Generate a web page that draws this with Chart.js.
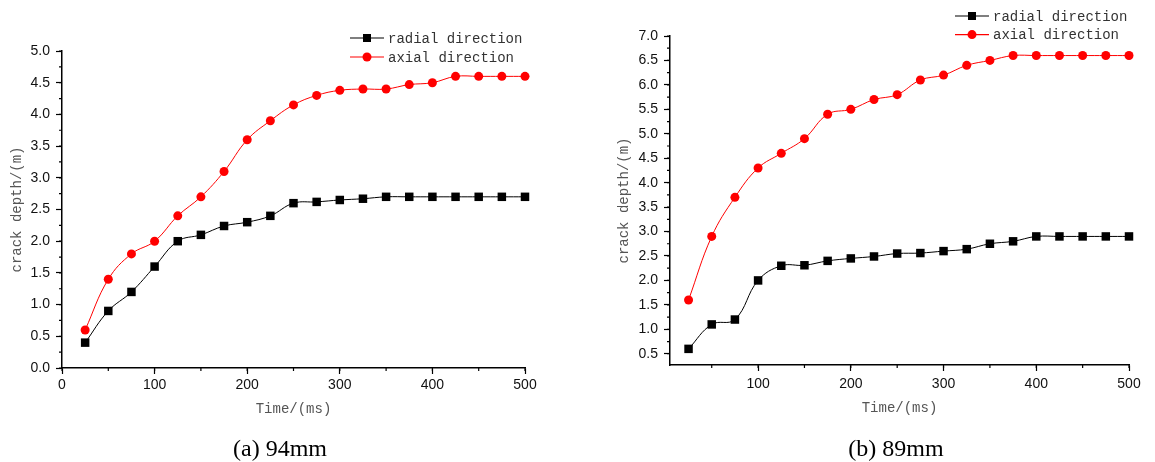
<!DOCTYPE html>
<html>
<head>
<meta charset="utf-8">
<script src="https://cdn.jsdelivr.net/npm/chart.js@4.4.1/dist/chart.umd.min.js"></script>
<style>
  body { margin: 0; background: #fff; }
  #wrap { position: relative; width: 1155px; height: 462px; overflow: hidden; }
  canvas { position: absolute; top: 0; }
  .cap { position: absolute; top: 436px; width: 300px; text-align: center;
         font: 24px "Liberation Serif", "Times New Roman", serif; line-height: 24px; color: #000; }
</style>
</head>
<body>
<div id="wrap">
  <canvas id="chartA" width="577" height="462" style="left:0"></canvas>
  <canvas id="chartB" width="578" height="462" style="left:577px"></canvas>
  <div class="cap" style="left:130px">(a) 94mm</div>
  <div class="cap" style="left:746px">(b) 89mm</div>
</div>
<script>
// data
const times = [25, 50, 75, 100, 125, 150, 175, 200, 225, 250, 275, 300, 325, 350, 375, 400, 425, 450, 475, 500];
const seriesLabels = ['radial direction', 'axial direction'];

// (a) 94mm
const radialA = [0.4, 0.9, 1.2, 1.6, 2.0, 2.1, 2.24, 2.3, 2.4, 2.6, 2.62, 2.65, 2.67, 2.7, 2.7, 2.7, 2.7, 2.7, 2.7, 2.7];
const axialA = [0.6, 1.4, 1.8, 2.0, 2.4, 2.7, 3.1, 3.6, 3.9, 4.15, 4.3, 4.38, 4.4, 4.4, 4.47, 4.5, 4.6, 4.6, 4.6, 4.6];

// (b) 89mm
const radialB = [0.6, 1.1, 1.2, 2.0, 2.3, 2.31, 2.4, 2.45, 2.49, 2.55, 2.56, 2.6, 2.64, 2.75, 2.8, 2.9, 2.9, 2.9, 2.9, 2.9];
const axialB = [1.6, 2.9, 3.7, 4.3, 4.6, 4.9, 5.4, 5.5, 5.7, 5.8, 6.1, 6.2, 6.4, 6.5, 6.6, 6.6, 6.6, 6.6, 6.6, 6.6];

const xTicksA = [0, 100, 200, 300, 400, 500];
const yTicksA = [0, 0.5, 1.0, 1.5, 2.0, 2.5, 3.0, 3.5, 4.0, 4.5, 5.0];
const xTicksB = [100, 200, 300, 400, 500];
const yTicksB = [0.5, 1.0, 1.5, 2.0, 2.5, 3.0, 3.5, 4.0, 4.5, 5.0, 5.5, 6.0, 6.5, 7.0];

const monoFont = '"Liberation Mono", "DejaVu Sans Mono", monospace';
const tickFont = { family: '"Liberation Sans", Arial, sans-serif', size: 14 };

// short unlabeled ticks between the major ones
const minorTicks = {
  id: 'minorTicks',
  afterDraw(chart, args, opts) {
    const { ctx, chartArea, scales: { x, y } } = chart;
    ctx.save();
    ctx.strokeStyle = '#000';
    ctx.lineWidth = 1.2;
    ctx.beginPath();
    for (let k = Math.ceil(x.min / opts.x - 1e-9); k * opts.x <= x.max + 1e-9; k++) {
      const px = x.getPixelForValue(k * opts.x);
      ctx.moveTo(px, chartArea.bottom);
      ctx.lineTo(px, chartArea.bottom + opts.len);
    }
    for (let k = Math.ceil(y.min / opts.y - 1e-9); k * opts.y <= y.max + 1e-9; k++) {
      const py = y.getPixelForValue(k * opts.y);
      ctx.moveTo(chartArea.left - opts.len, py);
      ctx.lineTo(chartArea.left, py);
    }
    ctx.stroke();
    ctx.restore();
  }
};

// Origin-style legend in the top right corner
const lineLegend = {
  id: 'lineLegend',
  afterDraw(chart, args, opts) {
    const ctx = chart.ctx;
    ctx.save();
    chart.data.datasets.forEach((ds, i) => {
      const y = opts.y + i * opts.gap;
      const cx = opts.x + 17;
      ctx.strokeStyle = ds.borderColor;
      ctx.lineWidth = 1.2;
      ctx.beginPath();
      ctx.moveTo(opts.x, y);
      ctx.lineTo(opts.x + 34, y);
      ctx.stroke();
      ctx.fillStyle = ds.backgroundColor;
      if (ds.pointStyle === 'rect') {
        ctx.fillRect(cx - 4, y - 4, 8, 8);
      } else {
        ctx.beginPath();
        ctx.arc(cx, y, 4.5, 0, Math.PI * 2);
        ctx.fill();
      }
      ctx.fillStyle = '#333';
      ctx.font = '14px ' + monoFont;
      ctx.textBaseline = 'middle';
      ctx.fillText(ds.label, opts.x + 38, y + 1);
    });
    ctx.restore();
  }
};

function makeChart(id, radial, axial, o) {
  new Chart(document.getElementById(id), {
    type: 'line',
    data: {
      datasets: [
        {
          label: seriesLabels[0],
          data: times.map((t, i) => ({ x: t, y: radial[i] })),
          borderColor: '#000',
          backgroundColor: '#000',
          borderWidth: 1,
          pointStyle: 'rect',
          pointRadius: 6,
          pointBorderWidth: 0,
          tension: 0.4,
          clip: false
        },
        {
          label: seriesLabels[1],
          data: times.map((t, i) => ({ x: t, y: axial[i] })),
          borderColor: '#ff0000',
          backgroundColor: '#ff0000',
          borderWidth: 1,
          pointStyle: 'circle',
          pointRadius: 4.5,
          pointBorderWidth: 0,
          tension: 0.4,
          clip: false
        }
      ]
    },
    options: {
      responsive: false,
      animation: false,
      layout: { padding: { top: o.top, right: o.right, bottom: 40, left: o.left } },
      plugins: {
        legend: { display: false },
        tooltip: { enabled: false },
        minorTicks: { x: 50, y: 0.25, len: 3 },
        lineLegend: o.legend
      },
      scales: {
        x: {
          type: 'linear',
          min: o.xMin,
          max: 500,
          afterBuildTicks: s => { s.ticks = o.xTicks.map(v => ({ value: v })); },
          afterFit: s => { s.height = o.xHeight; },
          ticks: { font: tickFont, color: '#111', padding: o.xPad, maxRotation: 0, callback: v => v },
          grid: { drawOnChartArea: false, tickLength: 6, color: '#000', tickWidth: 1.2 },
          border: { color: '#000', width: 1.5 },
          title: {
            display: true,
            text: 'Time/(ms)',
            color: '#555',
            font: { family: monoFont, size: 14 },
            padding: { top: 0, bottom: o.xTitlePad }
          }
        },
        y: {
          min: o.yMin,
          max: o.yMax,
          afterBuildTicks: s => { s.ticks = o.yTicks.map(v => ({ value: v })); },
          afterFit: s => { s.width = o.yWidth; },
          ticks: { font: tickFont, color: '#111', padding: 6, callback: v => v.toFixed(1) },
          grid: { drawOnChartArea: false, tickLength: 6, color: '#000', tickWidth: 1.2 },
          border: { color: '#000', width: 1.5 },
          title: {
            display: true,
            text: 'crack depth/(m)',
            color: '#555',
            font: { family: monoFont, size: 14 },
            padding: { top: 9, bottom: 0 }
          }
        }
      }
    },
    plugins: [minorTicks, lineLegend]
  });
}

makeChart('chartA', radialA, axialA, {
  top: 51, right: 52, left: 0, yWidth: 62, xHeight: 54, xPad: 3, xTitlePad: 4,
  xMin: 0, yMin: 0, yMax: 5, xTicks: xTicksA, yTicks: yTicksA,
  legend: { x: 350, y: 38, gap: 19 }
});

makeChart('chartB', radialB, axialB, {
  top: 36, right: 26, left: 30, yWidth: 63, xHeight: 57, xPad: 5, xTitlePad: 5,
  xMin: 5, yMin: 0.27, yMax: 7, xTicks: xTicksB, yTicks: yTicksB,
  legend: { x: 378, y: 16, gap: 18.6 }
});
</script>
</body>
</html>
